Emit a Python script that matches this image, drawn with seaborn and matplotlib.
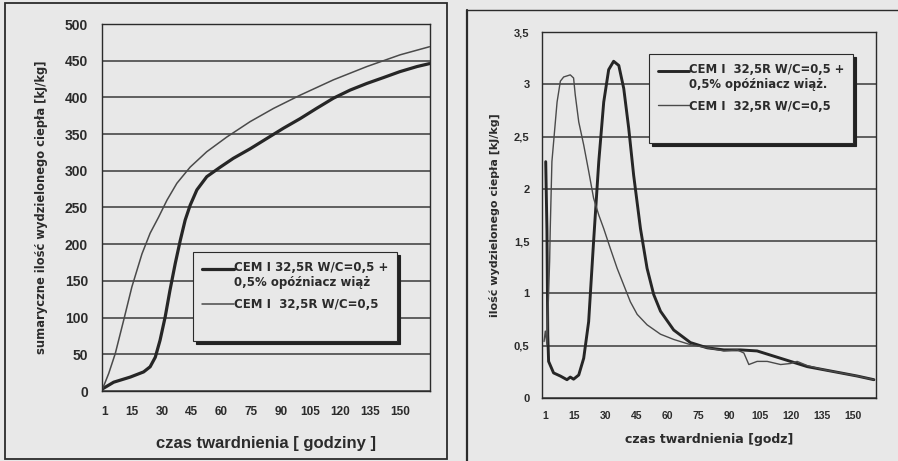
import numpy as np
import pandas as pd
import matplotlib
matplotlib.use("Agg")
import matplotlib.pyplot as plt
from matplotlib.patches import Rectangle
from matplotlib.lines import Line2D
from matplotlib.legend_handler import HandlerLine2D
import seaborn as sns

# ---------------- data ----------------
# left chart: cumulative heat [kJ/kg]
left_ret_h = [0, 5.6, 14, 20.7, 24, 26.6, 29, 31.6, 34, 36.7, 39.2, 41.7, 44.2, 47.6, 52.6,
              59.4, 66, 74.5, 82.9, 91.3, 99.7, 108, 116.6, 125, 133.4, 141.8, 150, 158.7,
              165]
left_ret_v = [3, 12, 19, 26, 33, 46, 69, 101, 137, 174, 205, 233, 253, 274, 292,
              305, 317, 330, 344, 358, 371, 385, 399, 410, 419, 427, 435, 442, 446]
left_ref_h = [0, 3.1, 6.4, 10.6, 14.8, 19.9, 24, 28.3, 32.5, 37.5, 44.2, 52.6, 62.7, 74.5,
              86.3, 99.7, 116.6, 133.4, 150.2, 165]
left_ref_v = [3, 24, 51, 96, 142, 187, 215, 237, 260, 283, 305, 326, 346, 367,
              385, 403, 424, 442, 458, 469]

# right chart: heat rate [kJ/kg]
right_ret_h = [1.2, 1.8, 2.2, 2.6, 5.0, 8.3, 11.5, 13.1, 14.7, 17.2, 19.6, 22.0, 24.4, 26.9,
               29.3, 31.7, 34.1, 36.6, 39.0, 41.4, 43.8, 47.1, 50.3, 53.5, 56.8, 63.2,
               71.3, 79.4, 87.5, 95.6, 103.6, 111.7, 119.8, 127.9, 136.0, 144.1, 152.1,
               160.2]
right_ret_v = [2.26, 1.6, 0.6, 0.35, 0.24, 0.21, 0.175, 0.2, 0.18, 0.22, 0.38, 0.73, 1.50,
               2.26, 2.83, 3.14, 3.22, 3.18, 2.96, 2.58, 2.13, 1.62, 1.24, 0.99, 0.83,
               0.65, 0.53, 0.48, 0.46, 0.46, 0.45, 0.40, 0.35, 0.30, 0.27, 0.24, 0.21,
               0.175]
right_ref_h = [0.4, 1.0, 1.8, 3.1, 3.4, 4.2, 6.7, 8.3, 9.9, 13.1, 14.7, 15.5, 17.2, 19.6,
               22.0, 24.4, 26.9, 29.3, 32.5, 35.8, 39.0, 42.2, 45.5, 50.3, 56.8, 63.2,
               71.3, 79.4, 87.5, 94.0, 97.2, 99.6, 103.6, 108.5, 115.0, 119.8, 123.0,
               127.9, 136.0, 144.1, 152.1, 160.2]
right_ref_v = [0.54, 0.64, 0.51, 1.31, 1.62, 2.26, 2.83, 3.03, 3.07, 3.09, 3.06, 2.90,
               2.64, 2.42, 2.17, 1.91, 1.75, 1.62, 1.43, 1.24, 1.08, 0.92, 0.80, 0.70,
               0.61, 0.56, 0.51, 0.48, 0.45, 0.46, 0.43, 0.32, 0.35, 0.35, 0.32, 0.33,
               0.35, 0.31, 0.27, 0.24, 0.21, 0.175]

x_ticks = [1, 15, 30, 45, 60, 75, 90, 105, 120, 135, 150]
left_yticks = [0, 50, 100, 150, 200, 250, 300, 350, 400, 450, 500]
right_yticks = [0, 0.5, 1, 1.5, 2, 2.5, 3, 3.5]
right_yticklabels = ["0", "0,5", "1", "1,5", "2", "2,5", "3", "3,5"]

lab_ret_left = "CEM I 32,5R W/C=0,5 +\n0,5% opóźniacz wiąż"
lab_ret_right = "CEM I  32,5R W/C=0,5 +\n0,5% opóźniacz wiąż."
lab_ref = "CEM I  32,5R W/C=0,5"

# ---------------- style ----------------
sns.set_style("white")
plt.rcParams["font.family"] = ["Liberation Sans", "DejaVu Sans"]
plt.rcParams["font.weight"] = "bold"

BG = "#e8e8e8"
INK = "#2b2b2b"
GRID = "#3a3a3a"
C_THICK = "#262626"
C_THIN = "#4a4a4a"

W, H = 898, 461
fig = plt.figure(figsize=(W / 100, H / 100), dpi=100, facecolor=BG)


def fx(px):
    return px / W


def fy(py):
    return 1 - py / H


# outer frames
fig.patches.append(Rectangle((fx(5), fy(459)), fx(447) - fx(5), fy(3) - fy(459),
                             transform=fig.transFigure, fill=False, ec=INK, lw=1.3))
fig.add_artist(Line2D([fx(467), fx(467)], [fy(10), fy(470)], transform=fig.transFigure,
                      color=INK, lw=1.6))
fig.add_artist(Line2D([fx(467), fx(900)], [fy(10), fy(10)], transform=fig.transFigure,
                      color=INK, lw=1.0))


class TopLine(HandlerLine2D):
    """Line handle raised to the first line of a two-line label."""

    def __init__(self, dy=0.0, **kw):
        super().__init__(**kw)
        self.dy = dy

    def create_artists(self, legend, orig_handle, xdescent, ydescent, width, height,
                       fontsize, trans):
        return super().create_artists(legend, orig_handle, xdescent,
                                      ydescent - 2 * self.dy * fontsize, width, height,
                                      fontsize, trans)


def style_axes(ax):
    ax.set_facecolor(BG)
    for s in ax.spines.values():
        s.set_color(INK)
        s.set_linewidth(1.0)
    ax.grid(False)
    ax.yaxis.grid(True, color=GRID, lw=1.1)
    ax.set_axisbelow(True)
    ax.tick_params(axis="y", direction="out", length=4, color=INK, colors=INK)
    ax.tick_params(axis="x", direction="in", length=3, color=INK, colors=INK)


def add_legend(lab_ret, lw_thick, lw_thin, anchor, size):
    h_thick = Line2D([], [], color=C_THICK, lw=lw_thick)
    h_thin = Line2D([], [], color=C_THIN, lw=lw_thin)
    h_blank = Line2D([], [], color="none", lw=0)
    leg = fig.legend([h_thick, h_thin, h_blank], [lab_ret, lab_ref, " "], loc="upper left",
                     bbox_to_anchor=anchor, frameon=True, fancybox=False,
                     shadow={"color": "#222222", "alpha": 1.0}, facecolor=BG,
                     edgecolor=INK, framealpha=1,
                     prop={"family": "DejaVu Sans", "size": size, "weight": "bold"},
                     handlelength=2.7, handletextpad=0.0, borderpad=0.75,
                     labelspacing=0.75, borderaxespad=0,
                     handler_map={h_thick: TopLine(dy=0.6)})
    leg.get_frame().set_linewidth(0.8)
    for t in leg.get_texts():
        t.set_color(INK)
    return leg


# ---------------- left chart ----------------
axL = fig.add_axes([fx(102), fy(391), fx(430) - fx(102), fy(24) - fy(391)])
dfL = pd.concat([
    pd.DataFrame({"h": left_ret_h, "v": left_ret_v, "s": lab_ret_left}),
    pd.DataFrame({"h": left_ref_h, "v": left_ref_v, "s": lab_ref}),
])
sns.lineplot(data=dfL, x="h", y="v", hue="s", size="s",
             palette={lab_ret_left: C_THICK, lab_ref: C_THIN},
             sizes={lab_ret_left: 2.3, lab_ref: 1.1},
             ax=axL, legend=False, sort=False, estimator=None)
style_axes(axL)
axL.set_xlim(-0.3, 165.3)
axL.set_ylim(0, 500)
axL.set_xticks(x_ticks)
axL.set_xticklabels([str(t) for t in x_ticks], fontsize=8.5, fontweight="bold")
axL.set_yticks(left_yticks)
axL.set_yticklabels([str(t) for t in left_yticks], fontsize=10, fontweight="bold")
axL.tick_params(axis="x", pad=11)
axL.tick_params(axis="y", pad=6)
axL.set_xlabel("czas twardnienia [ godziny ]", fontsize=12, fontweight="bold",
               color=INK, labelpad=13)
axL.set_ylabel("sumaryczne ilość wydzielonego ciepła [kJ/kg]", fontsize=8.3,
               fontweight="bold", family="DejaVu Sans", color=INK, labelpad=12)
add_legend(lab_ret_left, 2.3, 1.1, (fx(193), fy(252)), 8.5)

# ---------------- right chart ----------------
axR = fig.add_axes([fx(542), fy(398), fx(876) - fx(542), fy(32) - fy(398)])
dfR = pd.concat([
    pd.DataFrame({"h": right_ret_h, "v": right_ret_v, "s": lab_ret_right}),
    pd.DataFrame({"h": right_ref_h, "v": right_ref_v, "s": lab_ref}),
])
sns.lineplot(data=dfR, x="h", y="v", hue="s", size="s",
             palette={lab_ret_right: C_THICK, lab_ref: C_THIN},
             sizes={lab_ret_right: 2.1, lab_ref: 1.0},
             ax=axR, legend=False, sort=False, estimator=None)
style_axes(axR)
axR.set_xlim(-0.6, 161.2)
axR.set_ylim(0, 3.5)
axR.set_xticks(x_ticks)
axR.set_xticklabels([str(t) for t in x_ticks], fontsize=7.5, fontweight="bold")
axR.set_yticks(right_yticks)
axR.set_yticklabels(right_yticklabels, fontsize=8, fontweight="bold")
axR.tick_params(axis="x", pad=9)
axR.tick_params(axis="y", pad=5)
axR.set_xlabel("czas twardnienia [godz]", fontsize=9, fontweight="bold",
               family="DejaVu Sans", color=INK, labelpad=9)
axR.set_ylabel("ilość wydzielonego ciepła [kJ/kg]", fontsize=8, fontweight="bold",
               family="DejaVu Sans", color=INK, labelpad=10)
add_legend(lab_ret_right, 2.1, 1.0, (fx(649), fy(54)), 8.4)

fig.savefig("out.png", dpi=100, facecolor=BG)
